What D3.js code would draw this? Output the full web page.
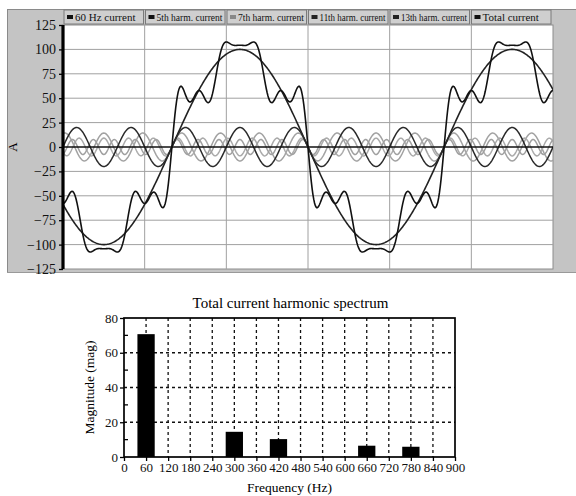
<!DOCTYPE html>
<html>
<head>
<meta charset="utf-8">
<script src="https://cdn.jsdelivr.net/npm/d3@7.9.0/dist/d3.min.js"></script>
<style>
  body { margin: 0; background: #fff; }
  svg { display: block; font-family: 'Liberation Serif', 'DejaVu Serif', serif; }
</style>
</head>
<body>
<svg id="chart" width="576" height="496"></svg>
<script>
// ---- waveform data (harmonic components of the current) ----
const seriesNames = ['60 Hz current', '5th harm. current', '7th harm. current',
  '11th harm. current', '13th harm. current', 'Total current'];
const harmOrders = [1, 5, 7, 11, 13];
const harmPeaks = [100, 20, 14.3, 9.1, 7.7];   // A peak
const phaseDeg = -144;                          // fundamental phase at t = 0
const seriesColors = ['#222', '#2a2a2a', '#a2a2a2', '#ababab', '#a0a0a0', '#111'];
const swatchColors = ['#111', '#111', '#888', '#222', '#222', '#111'];
const timeMs = d3.range(0, 30.001, 0.05);
const yTicksA = [-125, -100, -75, -50, -25, 0, 25, 50, 75, 100, 125];
const timeGrid = [5, 10, 15, 20, 25];

// ---- spectrum data ----
const specFreq = [60, 300, 420, 660, 780];
const specMag = [70.7, 14.5, 10.3, 6.5, 5.9];
const freqTicks = d3.range(0, 901, 60);
const magTicks = [0, 20, 40, 60, 80];
const magMinor = [10, 30, 50, 70];

const svg = d3.select('#chart');

// ================= top: waveforms =================
const wave = { x0: 63, x1: 553, y0: 25, y1: 269 };

svg.append('rect').attr('x', 7).attr('y', 9).attr('width', 569).attr('height', 264)
  .attr('fill', '#c4c4c4');
svg.append('line').attr('x1', 7).attr('x2', 576).attr('y1', 9.5).attr('y2', 9.5).attr('stroke', '#8a8a8a');
svg.append('line').attr('x1', 7.5).attr('x2', 7.5).attr('y1', 9).attr('y2', 273).attr('stroke', '#8a8a8a');
svg.append('line').attr('x1', 7).attr('x2', 576).attr('y1', 272.5).attr('y2', 272.5).attr('stroke', '#999');

svg.append('rect').attr('x', wave.x0).attr('y', wave.y0)
  .attr('width', wave.x1 - wave.x0).attr('height', wave.y1 - wave.y0)
  .attr('fill', '#fff').attr('stroke', '#8c8c8c');

let xT = d3.scaleLinear().domain([0, 30]).range([wave.x0, wave.x1]);
let yA = d3.scaleLinear().domain([-125, 125]).range([wave.y1, wave.y0]);

// grid
svg.append('g').selectAll('line').data(timeGrid).join('line')
  .attr('x1', d => xT(d)).attr('x2', d => xT(d))
  .attr('y1', wave.y0).attr('y2', wave.y1)
  .attr('stroke', '#a0a0a0').attr('stroke-width', 1);
svg.append('g').selectAll('line').data(yTicksA.filter(d => d !== 0 && Math.abs(d) !== 125)).join('line')
  .attr('x1', wave.x0).attr('x2', wave.x1)
  .attr('y1', d => yA(d)).attr('y2', d => yA(d))
  .attr('stroke', '#a0a0a0').attr('stroke-width', 1);

// curves
let omega = 2 * Math.PI * 60 / 1000; // rad per ms
let phi = phaseDeg * Math.PI / 180;
let comps = harmOrders.map((h, i) => timeMs.map(t => ({ t, v: harmPeaks[i] * Math.sin(h * (omega * t + phi)) })));
let total = timeMs.map((t, k) => ({ t, v: d3.sum(comps, c => c[k].v) }));
let allSeries = comps.concat([total]);

let line = d3.line().x(d => xT(d.t)).y(d => yA(d.v));

// light harmonics underneath, dark ones on top
let drawOrder = [2, 3, 4, 0, 1, 5];
svg.append('clipPath').attr('id', 'clipWave').append('rect')
  .attr('x', wave.x0).attr('y', wave.y0).attr('width', wave.x1 - wave.x0).attr('height', wave.y1 - wave.y0);
let curves = svg.append('g').attr('clip-path', 'url(#clipWave)');
drawOrder.forEach(i => {
  curves.append('path').datum(allSeries[i])
    .attr('d', line).attr('fill', 'none')
    .attr('stroke', seriesColors[i])
    .attr('stroke-width', i === 5 || i === 0 ? 1.6 : 1.5);
});

// zero line
svg.append('line').attr('x1', wave.x0).attr('x2', wave.x1)
  .attr('y1', yA(0)).attr('y2', yA(0)).attr('stroke', '#111').attr('stroke-width', 1.6);

// left axis
let axA = svg.append('g').attr('transform', `translate(${wave.x0},0)`)
  .call(d3.axisLeft(yA).tickValues(yTicksA).tickSize(4).tickPadding(3).tickFormat(d => d < 0 ? '\u2212' + Math.abs(d) : d));
axA.select('.domain').attr('stroke-width', 3.2).attr('d', `M0,${wave.y0}V${wave.y1}`);
axA.selectAll('text').attr('font-size', 14).attr('font-family', 'Liberation Serif').attr('fill', '#111');
axA.selectAll('line').attr('stroke-width', 1.3);

svg.append('text').attr('transform', `translate(17,${yA(0)}) rotate(-90)`)
  .attr('text-anchor', 'middle').attr('font-size', 13).text('A');

// legend boxes along the top
let legW = 79.5, legGap = 2;
let leg = svg.append('g').selectAll('g').data(seriesNames).join('g')
  .attr('transform', (d, i) => `translate(${64 + i * (legW + legGap)},10)`);
leg.append('rect').attr('width', legW).attr('height', 14)
  .attr('fill', '#cfcfcf').attr('stroke', '#7a7a7a').attr('stroke-width', 1);
leg.append('rect').attr('x', 3).attr('y', 5).attr('width', 6).attr('height', 4)
  .attr('fill', (d, i) => swatchColors[i]);
leg.append('text').attr('x', 11).attr('y', 11)
  .attr('font-size', 11).attr('fill', '#111')
  .text(d => d)
  .each(function () {
    // squeeze long labels so they stay inside their box
    if (this.getComputedTextLength() > 66) {
      d3.select(this).attr('textLength', 66).attr('lengthAdjust', 'spacingAndGlyphs');
    }
  });

// ================= bottom: spectrum =================
const spec = { x0: 124, x1: 455, y0: 318, y1: 457 };
let xF = d3.scaleLinear().domain([0, 900]).range([spec.x0, spec.x1]);
let yM = d3.scaleLinear().domain([0, 80]).range([spec.y1, spec.y0]);

svg.append('text').attr('x', (spec.x0 + spec.x1) / 2 + 1).attr('y', 308)
  .attr('text-anchor', 'middle').attr('font-size', 15).text('Total current harmonic spectrum');

// dashed grid
svg.append('g').selectAll('line').data(freqTicks.filter(d => d > 0 && d < 900)).join('line')
  .attr('x1', d => xF(d)).attr('x2', d => xF(d)).attr('y1', spec.y0).attr('y2', spec.y1)
  .attr('stroke', '#111').attr('stroke-width', 1.3).attr('stroke-dasharray', '3,3');
svg.append('g').selectAll('line').data(magTicks.filter(d => d > 0 && d < 80)).join('line')
  .attr('x1', spec.x0).attr('x2', spec.x1).attr('y1', d => yM(d)).attr('y2', d => yM(d))
  .attr('stroke', '#111').attr('stroke-width', 1.3).attr('stroke-dasharray', '3,3');

// bars
let barHalf = 23.5;
svg.append('g').selectAll('rect').data(specFreq).join('rect')
  .attr('x', d => xF(d - barHalf)).attr('width', xF(2 * barHalf) - xF(0))
  .attr('y', (d, i) => yM(specMag[i])).attr('height', (d, i) => yM(0) - yM(specMag[i]))
  .attr('fill', '#000');

// frame
svg.append('rect').attr('x', spec.x0).attr('y', spec.y0)
  .attr('width', spec.x1 - spec.x0).attr('height', spec.y1 - spec.y0)
  .attr('fill', 'none').attr('stroke', '#000').attr('stroke-width', 1.7);

// axes
let axF = svg.append('g').attr('transform', `translate(0,${spec.y1})`)
  .call(d3.axisBottom(xF).tickValues(freqTicks).tickSize(4).tickPadding(2));
axF.select('.domain').remove();
axF.selectAll('line').attr('stroke-width', 1.3);
axF.selectAll('text').attr('font-size', 13).attr('font-family', 'Liberation Serif').attr('fill', '#111');

let axM = svg.append('g').attr('transform', `translate(${spec.x0},0)`)
  .call(d3.axisLeft(yM).tickValues(magTicks).tickSize(4).tickPadding(2));
axM.select('.domain').remove();
axM.selectAll('line').attr('stroke-width', 1.3);
axM.selectAll('text').attr('font-size', 13).attr('font-family', 'Liberation Serif').attr('fill', '#111');

svg.append('g').selectAll('line').data(magMinor).join('line')
  .attr('x1', spec.x0).attr('x2', spec.x0 + 4).attr('y1', d => yM(d)).attr('y2', d => yM(d))
  .attr('stroke', '#000').attr('stroke-width', 1.3);

svg.append('text').attr('x', (spec.x0 + spec.x1) / 2).attr('y', 492)
  .attr('text-anchor', 'middle').attr('font-size', 13.5).text('Frequency (Hz)');
svg.append('text').attr('transform', `translate(94,${(spec.y0 + spec.y1) / 2}) rotate(-90)`)
  .attr('text-anchor', 'middle').attr('font-size', 13.5).text('Magnitude (mag)');
</script>
</body>
</html>
